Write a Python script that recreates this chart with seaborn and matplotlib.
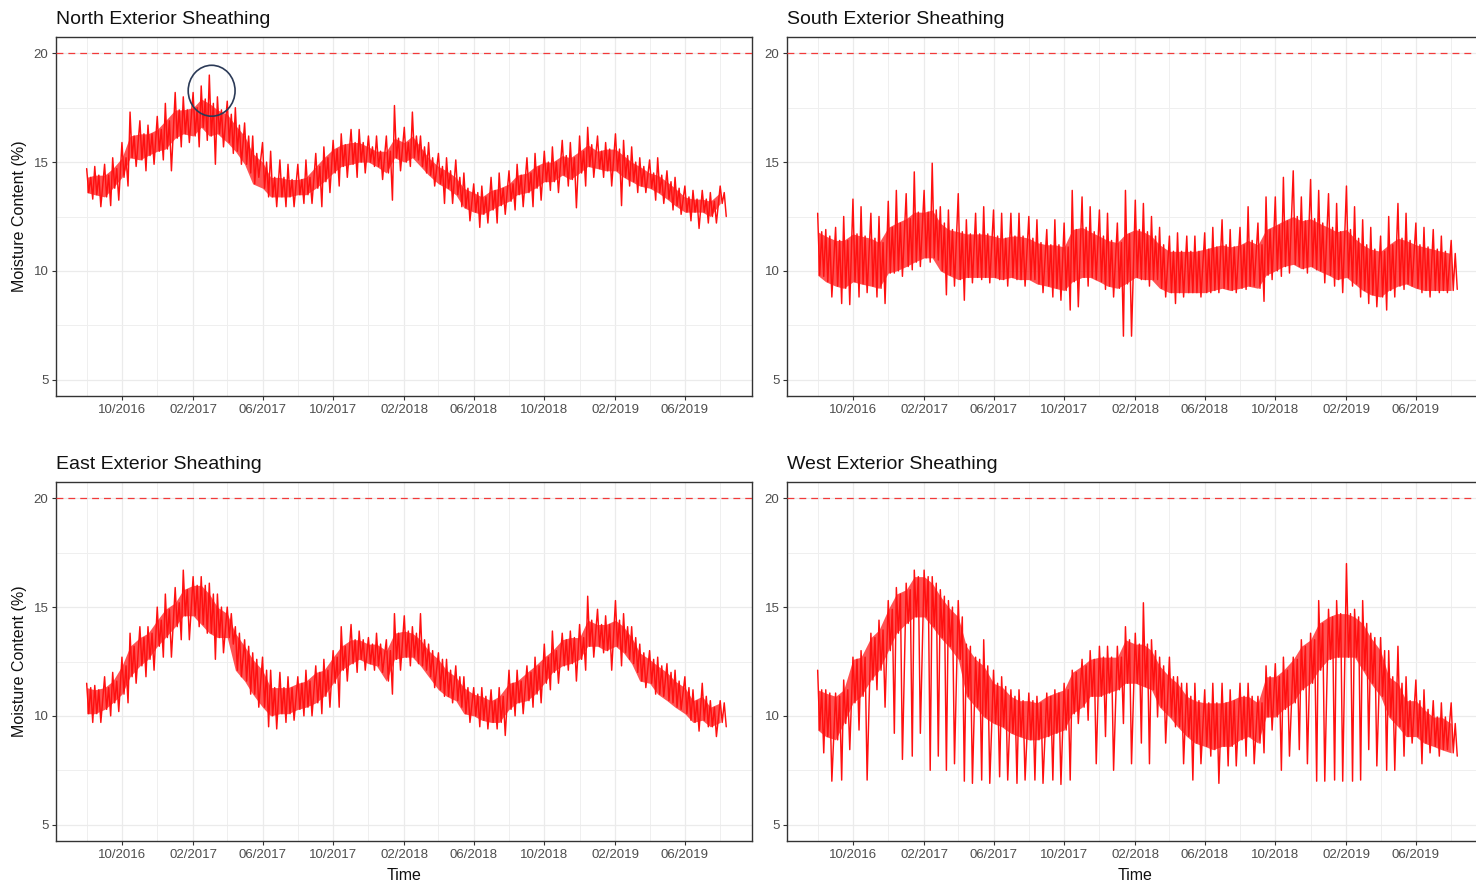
import numpy as np
import pandas as pd
import matplotlib
matplotlib.use("Agg")
import matplotlib.pyplot as plt
import matplotlib.dates as mdates
from matplotlib.patches import Ellipse
import seaborn as sns

# ---------------- data (half-month resolution) ----------------
periods = pd.date_range("2016-08-01", periods=73, freq="SMS")

north_hi = [14.3, 14.4, 14.4, 14.7, 15.2, 16.2, 16.3, 16.3, 16.5, 16.9, 17.4, 17.4, 17.5, 17.9, 17.7, 17.4, 17.2, 16.7, 16.2, 15.4,
            15.0, 14.3, 14.3, 14.2, 14.2, 14.3, 14.8, 15.2, 15.6, 15.8, 15.9, 15.9, 15.7, 15.5, 15.5, 16.1, 15.9, 16.2, 15.7, 15.2,
            14.8, 14.6, 14.3, 13.8, 13.6, 13.4, 13.7, 13.8, 14.0, 14.4, 14.5, 14.8, 15.0, 15.0, 15.3, 15.2, 15.5, 15.8, 15.5, 15.6,
            15.6, 15.3, 15.0, 14.8, 14.5, 14.4, 14.1, 13.8, 13.4, 13.3, 13.3, 13.2, 13.6]
north_lo = [13.6, 13.5, 13.4, 13.8, 14.3, 15.2, 15.1, 15.3, 15.5, 15.6, 16.1, 16.3, 16.2, 16.6, 16.2, 16.3, 15.9, 15.5, 14.9, 14.0,
            13.8, 13.4, 13.4, 13.4, 13.5, 13.5, 13.8, 14.1, 14.5, 14.8, 14.9, 15.0, 15.0, 14.8, 14.5, 15.2, 15.0, 15.2, 14.8, 14.4,
            14.0, 13.8, 13.5, 12.9, 12.7, 12.6, 12.8, 13.0, 13.2, 13.5, 13.6, 13.8, 14.1, 14.1, 14.4, 14.2, 14.5, 14.8, 14.7, 14.6,
            14.6, 14.3, 14.1, 13.9, 13.8, 13.6, 13.3, 13.0, 12.7, 12.7, 12.7, 12.5, 13.1]
north_peak = [14.7, 14.8, 14.9, 15.2, 15.9, 17.3, 16.9, 16.7, 17.1, 17.7, 18.2, 18.0, 18.2, 18.5, 19.0, 18.0, 17.8, 17.5, 16.8, 16.2,
              15.9, 15.5, 15.1, 14.9, 14.9, 15.1, 15.4, 15.7, 16.0, 16.3, 16.5, 16.5, 16.2, 16.2, 16.2, 17.6, 16.6, 17.3, 16.2, 15.9,
              15.4, 15.2, 15.1, 14.5, 14.0, 13.9, 14.3, 14.5, 14.6, 14.9, 15.2, 15.4, 15.5, 15.7, 16.0, 15.9, 16.2, 16.6, 16.2, 15.9,
              16.3, 16.0, 15.7, 15.2, 15.1, 15.2, 14.6, 14.3, 13.9, 13.7, 13.7, 13.6, 13.9]
north_trough = [13.3, 12.95, 13.0, 13.25, 13.9, 14.8, 14.6, 14.9, 15.1, 14.6, 15.7, 15.9, 15.7, 16.0, 14.9, 15.7, 15.4, 14.9, 14.5, 14.3,
                13.4, 12.95, 12.95, 12.95, 13.1, 13.1, 12.95, 13.6, 13.9, 14.3, 14.3, 14.5, 14.8, 14.2, 13.25, 14.6, 14.8, 15.1, 14.5, 13.9,
                13.1, 13.1, 12.95, 12.3, 12.0, 12.2, 12.2, 12.6, 12.8, 12.95, 12.95, 13.25, 13.7, 13.6, 13.9, 12.9, 13.9, 14.3, 14.3, 13.9,
                13.0, 13.9, 13.6, 13.6, 13.25, 13.1, 12.8, 12.6, 12.3, 11.95, 12.2, 12.2, 12.5]

south_hi = [11.8, 11.6, 11.4, 11.4, 11.7, 11.6, 11.5, 11.3, 12.0, 12.2, 12.4, 12.7, 12.7, 12.8, 12.2, 11.9, 11.8, 11.7, 11.7, 11.7,
            11.6, 11.5, 11.6, 11.6, 11.5, 11.3, 11.2, 11.2, 11.1, 11.9, 12.0, 11.8, 11.6, 11.4, 11.3, 11.7, 11.9, 11.8, 11.6, 11.2,
            10.9, 10.9, 10.9, 10.9, 11.0, 11.1, 11.2, 11.1, 11.2, 11.4, 11.2, 11.9, 12.1, 12.3, 12.5, 12.3, 12.4, 12.2, 12.0, 11.8,
            11.9, 11.5, 11.2, 11.0, 10.9, 11.2, 11.5, 11.4, 11.2, 11.1, 11.0, 10.9, 10.8]
south_lo = [9.8, 9.5, 9.3, 9.2, 9.5, 9.4, 9.3, 9.2, 9.9, 10.0, 10.2, 10.4, 10.6, 10.6, 10.0, 9.8, 9.6, 9.7, 9.7, 9.7,
            9.7, 9.6, 9.7, 9.6, 9.6, 9.4, 9.3, 9.2, 9.1, 9.5, 9.7, 9.7, 9.5, 9.3, 9.2, 9.4, 9.7, 9.6, 9.6, 9.2,
            9.0, 9.0, 9.0, 9.0, 9.0, 9.1, 9.2, 9.1, 9.2, 9.3, 9.2, 9.8, 10.0, 10.2, 10.3, 10.1, 10.2, 10.0, 9.8, 9.6,
            9.7, 9.4, 9.1, 8.9, 8.8, 9.1, 9.3, 9.4, 9.2, 9.1, 9.1, 9.1, 9.1]
south_peak = [12.65, 11.9, 12.0, 12.5, 13.3, 12.95, 12.65, 12.5, 13.2, 13.7, 13.55, 14.55, 13.7, 14.95, 12.95, 12.8, 13.55, 12.35, 12.65, 12.95,
              12.8, 12.65, 12.65, 12.65, 12.5, 12.35, 11.9, 12.35, 12.2, 13.7, 13.4, 12.95, 12.8, 12.65, 12.2, 13.7, 13.25, 13.1, 12.5, 12.0,
              11.6, 11.75, 11.6, 11.6, 11.75, 12.0, 12.35, 11.9, 12.0, 12.95, 12.2, 13.4, 13.4, 14.3, 14.6, 13.4, 14.2, 13.7, 13.55, 13.1,
              13.9, 12.95, 12.35, 12.0, 11.6, 12.5, 13.1, 12.65, 12.2, 12.0, 11.9, 11.6, 11.4]
south_trough = [9.75, 8.8, 8.5, 8.45, 8.8, 9.0, 8.8, 8.5, 9.9, 9.75, 10.05, 10.2, 10.4, 10.5, 8.9, 9.3, 8.65, 9.45, 9.6, 9.45,
                9.6, 9.3, 9.6, 9.3, 9.6, 9.0, 8.8, 8.65, 8.2, 8.35, 9.3, 9.6, 9.15, 8.8, 7.0, 7.0, 9.6, 9.3, 9.6, 8.8,
                8.5, 8.8, 9.0, 8.8, 9.0, 9.0, 9.15, 9.0, 9.15, 9.3, 8.6, 9.6, 9.75, 9.9, 10.2, 9.9, 10.05, 9.45, 9.3, 9.0,
                9.3, 8.8, 8.5, 8.35, 8.2, 8.8, 9.15, 9.3, 9.0, 8.8, 9.0, 9.0, 9.15]

east_hi = [11.3, 11.2, 11.3, 11.6, 12.3, 13.2, 13.6, 13.8, 14.4, 14.9, 15.2, 15.8, 16.0, 16.0, 15.6, 15.0, 14.7, 13.8, 13.2, 12.6,
           12.1, 11.3, 11.3, 11.3, 11.5, 11.6, 12.0, 12.1, 12.7, 13.2, 13.5, 13.5, 13.3, 13.3, 13.0, 13.8, 13.9, 13.8, 13.5, 13.0,
           12.6, 12.1, 11.8, 11.3, 11.0, 10.9, 10.7, 10.9, 11.5, 11.6, 12.0, 12.3, 12.7, 13.0, 13.5, 13.6, 13.6, 14.4, 14.2, 14.2,
           14.4, 14.1, 13.6, 12.9, 12.6, 12.3, 12.0, 11.6, 11.3, 10.7, 10.9, 10.4, 10.6]
east_lo = [10.1, 10.1, 10.3, 10.6, 11.0, 11.8, 12.3, 12.6, 13.2, 13.6, 14.1, 14.6, 14.6, 14.2, 13.8, 13.6, 13.6, 12.1, 11.6, 11.0,
           10.4, 10.0, 10.1, 10.1, 10.3, 10.4, 10.6, 10.9, 11.5, 12.1, 12.4, 12.6, 12.4, 12.3, 11.6, 12.6, 12.7, 12.7, 12.3, 11.8,
           11.2, 10.9, 10.7, 10.1, 10.0, 9.8, 9.7, 9.7, 10.3, 10.6, 10.7, 11.0, 11.5, 12.0, 12.3, 12.4, 12.6, 13.2, 13.2, 13.0,
           13.2, 12.9, 12.4, 11.6, 11.5, 11.0, 10.7, 10.4, 10.1, 9.7, 9.8, 9.5, 9.7]
east_peak = [11.5, 11.4, 11.8, 12.0, 12.7, 13.8, 14.1, 14.1, 15.0, 15.6, 15.9, 16.7, 16.4, 16.4, 16.1, 15.6, 15.0, 14.1, 13.5, 12.9,
             12.7, 12.1, 12.0, 11.8, 11.8, 12.1, 12.3, 12.6, 13.0, 14.1, 14.2, 13.9, 13.6, 13.8, 13.5, 14.7, 14.6, 14.1, 14.7, 13.3,
             12.9, 12.6, 12.3, 11.8, 11.3, 11.3, 11.2, 11.3, 12.1, 12.1, 12.3, 12.7, 13.3, 13.9, 13.8, 13.9, 14.2, 15.5, 14.9, 14.6,
             15.3, 14.7, 14.1, 13.3, 13.0, 12.7, 12.4, 12.1, 11.8, 11.2, 11.5, 10.7, 10.7]
east_trough = [9.7, 9.7, 10.0, 10.2, 10.6, 11.5, 11.8, 12.1, 12.7, 12.7, 13.5, 13.5, 14.1, 13.8, 12.6, 12.9, 13.3, 11.8, 11.0, 10.4,
               9.5, 9.4, 9.7, 9.8, 10.0, 10.0, 10.1, 10.4, 10.4, 11.6, 12.0, 12.1, 12.1, 12.0, 11.0, 12.1, 12.3, 12.4, 12.1, 11.3,
               10.9, 10.6, 10.4, 9.7, 9.5, 9.4, 9.4, 9.1, 10.0, 10.1, 10.4, 10.6, 11.2, 11.5, 12.1, 11.6, 12.1, 12.7, 12.9, 12.1,
               12.3, 12.6, 12.0, 11.3, 11.0, 10.9, 10.6, 10.3, 9.8, 9.3, 9.5, 9.05, 9.5]

west_hi = [11.2, 11.05, 10.9, 11.2, 12.6, 12.7, 13.6, 13.95, 14.9, 15.6, 15.8, 16.4, 16.4, 16.1, 15.5, 15.0, 14.55, 13.2, 12.6, 12.3,
           11.5, 11.35, 10.9, 10.7, 10.7, 10.6, 10.9, 11.05, 11.2, 12.0, 12.3, 12.6, 12.7, 12.7, 12.7, 13.5, 13.3, 13.3, 13.0, 12.3,
           11.8, 11.5, 10.9, 10.7, 10.6, 10.6, 10.6, 10.7, 10.9, 10.9, 10.6, 11.8, 11.8, 12.1, 12.6, 13.2, 13.5, 14.25, 14.55, 14.7,
           14.7, 14.55, 14.25, 13.6, 13.0, 11.8, 11.5, 10.7, 10.7, 10.3, 9.95, 9.95, 9.65]
west_lo = [9.35, 9.05, 8.9, 9.65, 10.6, 10.9, 11.65, 12.1, 13.0, 13.8, 14.25, 14.55, 14.55, 14.1, 13.6, 13.2, 12.6, 10.9, 10.4, 9.95,
           9.65, 9.5, 9.2, 9.05, 8.9, 8.9, 9.05, 9.2, 9.35, 10.1, 10.4, 10.9, 10.9, 11.05, 11.2, 11.5, 11.5, 11.35, 11.2, 10.4,
           9.95, 9.5, 9.05, 8.75, 8.6, 8.45, 8.6, 8.6, 8.9, 9.05, 8.75, 9.95, 9.95, 10.3, 10.6, 11.2, 11.5, 12.1, 12.6, 12.7,
           12.7, 12.7, 12.1, 11.5, 10.9, 9.95, 9.5, 9.05, 9.05, 8.75, 8.6, 8.45, 8.3]
west_peak = [12.1, 11.2, 11.05, 11.65, 12.7, 13.0, 13.8, 14.4, 15.3, 15.9, 16.1, 16.7, 16.7, 16.4, 15.8, 15.3, 15.3, 13.3, 12.7, 13.5,
             12.1, 11.8, 11.2, 11.2, 11.05, 10.9, 11.05, 11.2, 11.5, 12.1, 12.6, 13.0, 13.2, 13.2, 13.2, 14.1, 13.8, 15.2, 13.5, 12.7,
             12.7, 11.8, 11.5, 11.5, 11.2, 11.5, 11.5, 11.2, 11.5, 11.5, 10.9, 12.3, 12.4, 12.7, 12.7, 13.5, 13.8, 15.3, 14.9, 15.3,
             17.0, 14.9, 15.3, 13.8, 13.6, 13.0, 13.2, 11.8, 11.65, 11.2, 10.7, 10.6, 10.6]
west_trough = [8.3, 7.0, 7.05, 8.45, 9.35, 7.05, 11.2, 10.4, 9.2, 8.0, 8.15, 9.2, 7.5, 8.15, 7.5, 7.8, 7.0, 6.9, 7.05, 6.9,
               7.2, 7.05, 6.9, 7.05, 7.05, 6.9, 7.05, 6.85, 7.05, 9.65, 9.8, 7.8, 9.05, 7.5, 9.65, 7.8, 8.75, 7.8, 9.95, 8.75,
               9.5, 7.8, 7.05, 7.8, 8.15, 6.9, 7.7, 7.7, 8.15, 7.8, 8.3, 9.35, 7.5, 8.15, 8.45, 7.8, 7.0, 7.0, 7.05, 7.0,
               7.0, 7.05, 8.45, 7.7, 7.5, 7.5, 8.15, 8.75, 7.8, 8.3, 8.15, 8.45, 8.15]

titles = ["North Exterior Sheathing", "South Exterior Sheathing",
          "East Exterior Sheathing", "West Exterior Sheathing"]
threshold = 20
y_ticks = [5, 10, 15, 20]
y_minor = [7.5, 12.5, 17.5]
circle_center = ("2017-03-05", 18.28)   # annotation circle on the North panel

# ---------------- figure ----------------
sns.set_theme(style="white")
plt.rcParams["font.family"] = ["Liberation Sans", "DejaVu Sans"]

W, H = 1476, 882
fig = plt.figure(figsize=(W / 100, H / 100), dpi=100)
AX_W, AX_H = 696, 359
positions = [(56, 37), (787, 37), (56, 482), (787, 482)]

series = [
    (north_hi, north_lo, north_peak, north_trough),
    (south_hi, south_lo, south_peak, south_trough),
    (east_hi, east_lo, east_peak, east_trough),
    (west_hi, west_lo, west_peak, west_trough),
]

# within each half month: peak, core bottom, core top, trough
offsets = [pd.Timedelta(days=d) for d in (0, 3.5, 7.0, 10.5)]

for i, ((left, top), title, (hi, lo, pk, tr)) in enumerate(zip(positions, titles, series)):
    ax = fig.add_axes([left / W, 1 - (top + AX_H) / H, AX_W / W, AX_H / H])
    ax.set_axisbelow(True)

    # dense core of the record (overplotted band)
    ax.fill_between(periods, lo, hi, color="#FF1A1A", alpha=0.75, linewidth=0, zorder=2)

    # the record itself: peak -> core bottom -> core top -> trough per half month
    zig_t = np.ravel(np.column_stack([(periods + o).values for o in offsets]))
    zig_v = np.ravel(np.column_stack([pk, lo, hi, tr]))
    df = pd.DataFrame({"Time": zig_t, "Moisture": zig_v})
    sns.lineplot(data=df, x="Time", y="Moisture", ax=ax, color="#FF1010",
                 linewidth=1.05, estimator=None, sort=False, zorder=3)

    ax.axhline(threshold, color="#F23A3A", lw=0.9, ls=(0, (5.5, 4)), zorder=4)

    ax.set_xlim(pd.Timestamp("2016-06-09"), pd.Timestamp("2019-09-25"))
    ax.set_ylim(4.25, 20.75)
    ax.xaxis.set_major_locator(mdates.MonthLocator(bymonth=[2, 6, 10]))
    ax.xaxis.set_minor_locator(mdates.MonthLocator(bymonth=[4, 8, 12]))
    ax.xaxis.set_major_formatter(mdates.DateFormatter("%m/%Y"))
    ax.set_yticks(y_ticks)
    ax.set_yticks(y_minor, minor=True)
    ax.yaxis.set_major_formatter(matplotlib.ticker.FormatStrFormatter("%d"))

    ax.grid(which="major", color="#EBEBEB", lw=0.9)
    ax.grid(which="minor", color="#EFEFEF", lw=0.7)
    ax.tick_params(which="major", direction="out", length=3, width=0.8,
                   color="#333333", labelsize=9.5, labelcolor="#4D4D4D",
                   pad=2.5, bottom=True, left=True)
    ax.tick_params(which="minor", length=0)
    for s in ax.spines.values():
        s.set_color("#333333")
        s.set_linewidth(1.0)
    ax.set_xlabel("")
    ax.set_ylabel("")
    ax.set_title(title, loc="left", fontsize=14, pad=9.4, color="#111111")

    if i == 0:
        cx = mdates.date2num(pd.Timestamp(circle_center[0]))
        ax.add_patch(Ellipse((cx, circle_center[1]), width=81, height=2.34,
                             fill=False, edgecolor="#2B3A57", lw=1.2, zorder=6))

# axis titles
for yc in (216.5, 661.5):
    fig.text(20 / W, 1 - yc / H, "Moisture Content (%)", rotation=90,
             ha="center", va="center", fontsize=11.5, color="#111111")
for xc in (404, 1135):
    fig.text(xc / W, 1 - 880 / H, "Time", ha="center", va="baseline",
             fontsize=11.5, color="#111111")

fig.savefig("out.png", dpi=100)
